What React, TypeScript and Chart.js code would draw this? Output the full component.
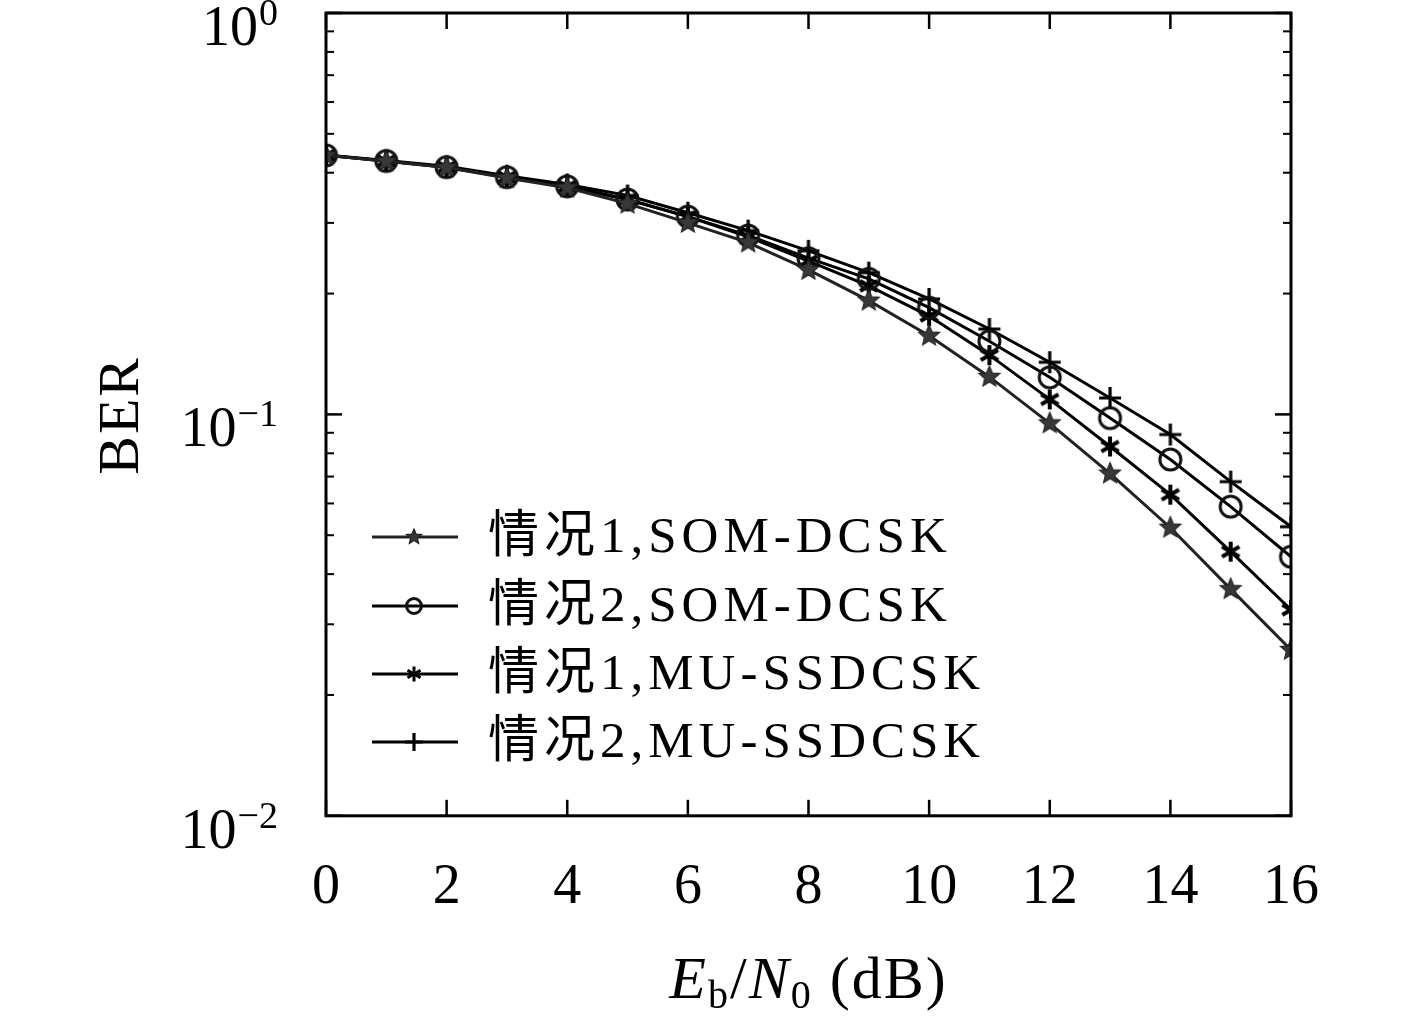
import { useEffect, useRef } from 'react';
import { Chart, registerables } from 'chart.js';

Chart.register(...registerables);

// Eb/N0 in dB
const snr = [0, 1, 2, 3, 4, 5, 6, 7, 8, 9, 10, 11, 12, 13, 14, 15, 16];
// BER curves
const case1Som = [0.442, 0.427, 0.412, 0.388, 0.367, 0.335, 0.300, 0.268, 0.229, 0.192, 0.157, 0.124, 0.095, 0.0712, 0.0522, 0.0367, 0.0259];
const case2Som = [0.442, 0.428, 0.413, 0.390, 0.370, 0.343, 0.311, 0.279, 0.245, 0.2176, 0.1845, 0.1522, 0.1237, 0.0979, 0.0772, 0.0589, 0.0442];
const case1Mu = [0.442, 0.428, 0.413, 0.390, 0.370, 0.343, 0.311, 0.277, 0.241, 0.209, 0.1758, 0.1405, 0.109, 0.0832, 0.0631, 0.0455, 0.0326];
const case2Mu = [0.443, 0.429, 0.415, 0.393, 0.374, 0.351, 0.318, 0.287, 0.2555, 0.2255, 0.1939, 0.1632, 0.1349, 0.1099, 0.0891, 0.068, 0.0525];

const seriesNames = ['情况1,SOM-DCSK', '情况2,SOM-DCSK', '情况1,MU-SSDCSK', '情况2,MU-SSDCSK'];
const xTicks = [0, 2, 4, 6, 8, 10, 12, 14, 16];
const yDecades = [1, 0.1, 0.01];
const yExponents = ['0', '−1', '−2'];

const SERIF = "'Liberation Serif', 'Noto Sans CJK SC', 'DejaVu Serif', serif";

type Painter = (g: CanvasRenderingContext2D, r: number) => void;

const paintStar: Painter = (g, r) => {
  g.beginPath();
  for (let i = 0; i < 10; i++) {
    const rad = i % 2 === 0 ? r : r * 0.45;
    const a = -Math.PI / 2 + (i * Math.PI) / 5;
    g.lineTo(rad * Math.cos(a), rad * Math.sin(a));
  }
  g.closePath();
  g.fillStyle = '#383838';
  g.fill();
  g.strokeStyle = '#222';
  g.lineWidth = 1.2;
  g.stroke();
};

const paintCircle: Painter = (g, r) => {
  g.beginPath();
  g.arc(0, 0, r, 0, Math.PI * 2);
  g.strokeStyle = '#111';
  g.lineWidth = 3;
  g.stroke();
};

const paintAsterisk: Painter = (g, r) => {
  g.strokeStyle = '#000';
  g.lineWidth = r * 0.4;
  g.lineCap = 'butt';
  for (const deg of [90, 30, 150]) {
    const a = (deg * Math.PI) / 180;
    g.beginPath();
    g.moveTo(-r * Math.cos(a), -r * Math.sin(a));
    g.lineTo(r * Math.cos(a), r * Math.sin(a));
    g.stroke();
  }
};

const paintPlus: Painter = (g, r) => {
  g.strokeStyle = '#000';
  g.lineWidth = 3.2;
  g.beginPath();
  g.moveTo(-r, 0); g.lineTo(r, 0);
  g.moveTo(0, -r); g.lineTo(0, r);
  g.stroke();
};

function markerImage(paint: Painter, r: number) {
  const c = document.createElement('canvas');
  const s = Math.ceil(r * 2 + 6);
  c.width = s; c.height = s;
  const g = c.getContext('2d')!;
  g.translate(s / 2, s / 2);
  paint(g, r);
  return c;
}

const painters = [paintStar, paintCircle, paintAsterisk, paintPlus];
const plotSizes = [11, 10.5, 10, 11];
const legendSizes = [8, 7.5, 7.5, 9];

const framePlugin = {
  id: 'frame',
  afterDraw(chart: Chart) {
    const { ctx, chartArea: a } = chart;
    const xs = chart.scales.x;
    const ys = chart.scales.y;
    const line = (x1: number, y1: number, x2: number, y2: number) => {
      ctx.beginPath(); ctx.moveTo(x1, y1); ctx.lineTo(x2, y2); ctx.stroke();
    };
    ctx.save();
    ctx.strokeStyle = '#000';
    ctx.lineWidth = 3;
    ctx.strokeRect(a.left, a.top, a.right - a.left, a.bottom - a.top);

    // inward ticks
    ctx.lineWidth = 2.5;
    xTicks.forEach(v => {
      const px = xs.getPixelForValue(v);
      line(px, a.bottom, px, a.bottom - 16);
      line(px, a.top, px, a.top + 16);
    });
    yDecades.forEach(v => {
      const py = ys.getPixelForValue(v);
      line(a.left, py, a.left + 16, py);
      line(a.right, py, a.right - 16, py);
    });
    ctx.lineWidth = 2;
    [0.01, 0.1].forEach(d => {
      for (let m = 2; m <= 9; m++) {
        const py = ys.getPixelForValue(m * d);
        line(a.left, py, a.left + 8, py);
        line(a.right, py, a.right - 8, py);
      }
    });

    // y tick labels with superscripts
    ctx.fillStyle = '#000';
    ctx.textBaseline = 'alphabetic';
    const labelRight = a.left - 48;
    yDecades.forEach((v, i) => {
      const py = ys.getPixelForValue(v);
      ctx.font = `38px ${SERIF}`;
      const supW = ctx.measureText(yExponents[i]).width;
      ctx.textAlign = 'left';
      ctx.fillText(yExponents[i], labelRight - supW, py + 12);
      ctx.font = `56px ${SERIF}`;
      ctx.textAlign = 'right';
      ctx.fillText('10', labelRight - supW - 1, py + 32);
    });

    // y title
    ctx.save();
    ctx.translate(123, (a.top + a.bottom) / 2 + 1);
    ctx.rotate(-Math.PI / 2);
    ctx.font = `58px ${SERIF}`;
    ctx.textAlign = 'center';
    ctx.textBaseline = 'middle';
    (ctx as any).letterSpacing = '2px';
    ctx.fillText('BER', 0, 0);
    ctx.restore();

    // x title: E_b / N_0 (dB)
    (ctx as any).letterSpacing = '2px';
    const parts: [string, string, number][] = [
      ['E', `italic 60px ${SERIF}`, 0],
      ['b', `40px ${SERIF}`, 10],
      ['/', `60px ${SERIF}`, 0],
      ['N', `italic 60px ${SERIF}`, 0],
      ['0', `40px ${SERIF}`, 10],
      [' (dB)', `60px ${SERIF}`, 0],
    ];
    let total = 0;
    const widths = parts.map(([t, f]) => { ctx.font = f; const w = ctx.measureText(t).width; total += w; return w; });
    let cx = (a.left + a.right) / 2 - total / 2;
    ctx.textAlign = 'left';
    parts.forEach(([t, f, dy], i) => {
      ctx.font = f;
      ctx.fillText(t, cx, 998 + dy);
      cx += widths[i];
    });

    // legend
    const rows = [537, 606, 674, 742];
    seriesNames.forEach((name, i) => {
      const y = rows[i];
      ctx.strokeStyle = i === 0 ? '#222' : '#000';
      ctx.lineWidth = 3;
      line(372, y, 458, y);
      ctx.save();
      ctx.translate(414, y);
      painters[i](ctx, legendSizes[i]);
      ctx.restore();
      ctx.fillStyle = '#000';
      ctx.font = `51px ${SERIF}`;
      (ctx as any).letterSpacing = '5px';
      ctx.textAlign = 'left';
      ctx.textBaseline = 'middle';
      ctx.fillText(name, 488, y + 2);
    });
    ctx.restore();
  },
};

export default function App() {
  const ref = useRef<HTMLCanvasElement>(null);

  useEffect(() => {
    document.body.style.margin = '0';
    document.body.style.background = '#fff';
    if (!ref.current) return;
    const curves = [case1Som, case2Som, case1Mu, case2Mu];
    const chart = new Chart(ref.current, {
      type: 'line',
      data: {
        datasets: curves.map((vals, i) => ({
          label: seriesNames[i],
          data: snr.map((x, k) => ({ x, y: vals[k] })),
          borderColor: i === 0 ? '#222' : '#000',
          borderWidth: 3,
          pointStyle: markerImage(painters[i], plotSizes[i]),
          pointRadius: 10,
          tension: 0,
          fill: false,
        })),
      },
      options: {
        responsive: false,
        animation: false,
        layout: { padding: { left: 326, right: 126, top: 13, bottom: 57 } },
        plugins: { legend: { display: false }, tooltip: { enabled: false } },
        scales: {
          x: {
            type: 'linear',
            min: 0,
            max: 16,
            afterBuildTicks: s => { s.ticks = xTicks.map(v => ({ value: v })); },
            ticks: { color: '#000', padding: 39, font: { family: SERIF, size: 56 } },
            grid: { display: false, drawTicks: false },
            border: { display: false },
          },
          y: {
            type: 'logarithmic',
            min: 0.01,
            max: 1,
            ticks: { display: false },
            grid: { display: false, drawTicks: false },
            border: { display: false },
          },
        },
      },
      plugins: [framePlugin],
    });
    return () => { chart.destroy(); };
  }, []);

  return <canvas ref={ref} width={1417} height={1018} />;
}
